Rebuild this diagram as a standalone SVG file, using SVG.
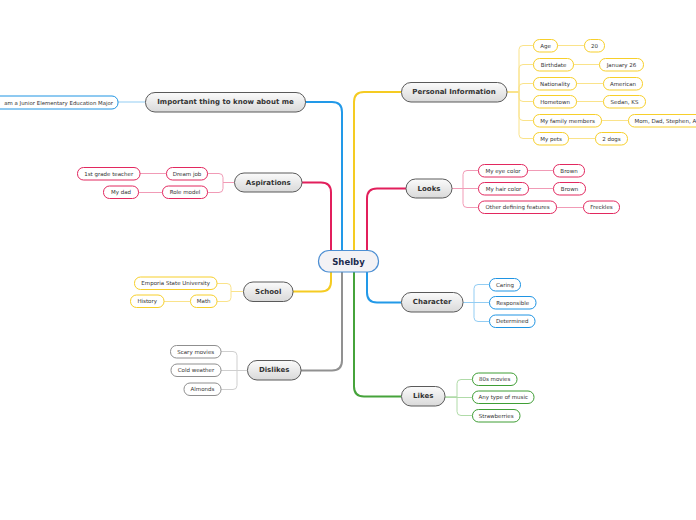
<svg xmlns="http://www.w3.org/2000/svg" width="696" height="520" viewBox="0 0 696 520">
<defs>
<linearGradient id="mg" x1="0" y1="0" x2="0" y2="1">
<stop offset="0" stop-color="#fbfbfb"/>
<stop offset="1" stop-color="#d9d9d9"/>
</linearGradient>
</defs>
<style>
text{font-family:"DejaVu Sans",Verdana,sans-serif;fill:#333;text-anchor:middle;dominant-baseline:central}
.main rect{fill:url(#mg);stroke:#5a5a5a;stroke-width:1}
.main text{font-size:7px;font-weight:bold}
.sub rect{fill:#fff;stroke-width:1}
.sub text{font-size:5.5px}
.y rect{stroke:#f7cf2a}
.p rect{stroke:#e2285f}
.b rect{stroke:#1f94e3}
.g rect{stroke:#3f9e35}
.k rect{stroke:#8f8f8f}
#connectors path{fill:none}
.ty{stroke:#f5cb22;stroke-width:2}
.tp{stroke:#e21f5c;stroke-width:2}
.tb{stroke:#2299e8;stroke-width:2}
.tg{stroke:#46a33b;stroke-width:2}
.tk{stroke:#919191;stroke-width:2}
.ly{stroke:#fae38a;stroke-width:1}
.lp{stroke:#f19bb6;stroke-width:1}
.lb{stroke:#93cdf3;stroke-width:1}
.lg{stroke:#b0dba8;stroke-width:1}
.lk{stroke:#cfcfcf;stroke-width:1}
</style>
<g id="connectors">
<path class="tb" d="M342 250 V112 Q342 102 332 102 H305"/>
<path class="ty" d="M354 250 V102 Q354 92 364 92 H401"/>
<path class="tp" d="M331 250 V192.5 Q331 182.5 321 182.5 H302"/>
<path class="tp" d="M367 250 V198.5 Q367 188.5 377 188.5 H406"/>
<path class="ty" d="M331 272 V281.5 Q331 291.5 321 291.5 H293"/>
<path class="tk" d="M342 272 V360.5 Q342 370.5 332 370.5 H301"/>
<path class="tg" d="M354 272 V386.5 Q354 396.5 364 396.5 H401"/>
<path class="tb" d="M367 272 V292.5 Q367 302.5 377 302.5 H401"/>
<path class="lb" d="M145 102 H118"/>
<path class="ly" d="M507 92 H519 V49.5 Q519 45.5 523 45.5 H533"/>
<path class="ly" d="M507 92 H519 V68.5 Q519 64.5 523 64.5 H533"/>
<path class="ly" d="M507 92 H519 V87.5 Q519 83.5 523 83.5 H533"/>
<path class="ly" d="M507 92 H519 V97.5 Q519 101.5 523 101.5 H533"/>
<path class="ly" d="M507 92 H519 V116.5 Q519 120.5 523 120.5 H533"/>
<path class="ly" d="M507 92 H519 V134.5 Q519 138.5 523 138.5 H533"/>
<path class="ly" d="M557 45.5 H584 M573 64.5 H599 M576 83.5 H603 M576 101.5 H603 M601 120.5 H628 M568 138.5 H595"/>
<path class="lp" d="M452 188.5 H463 V174.5 Q463 170.5 467 170.5 H478"/>
<path class="lp" d="M452 188.5 H478"/>
<path class="lp" d="M452 188.5 H463 V203.5 Q463 207.5 467 207.5 H478"/>
<path class="lp" d="M527 170.5 H553 M528 188.5 H553 M556 207.5 H583"/>
<path class="lb" d="M463 302.5 H474 V288.5 Q474 284.5 478 284.5 H489"/>
<path class="lb" d="M463 302.5 H489"/>
<path class="lb" d="M463 302.5 H474 V317.5 Q474 321.5 478 321.5 H489"/>
<path class="lg" d="M445 397 H457 V383.5 Q457 379.5 461 379.5 H472"/>
<path class="lg" d="M445 397.5 H472"/>
<path class="lg" d="M445 397 H457 V411.5 Q457 415.5 461 415.5 H472"/>
<path class="lp" d="M234 182.5 H223 V177.5 Q223 173.5 219 173.5 H207"/>
<path class="lp" d="M234 182.5 H223 V188.5 Q223 192.5 219 192.5 H207"/>
<path class="lp" d="M140 173.5 H166 M138 192.5 H162"/>
<path class="ly" d="M243 291.5 H231 V287.5 Q231 283.5 227 283.5 H217"/>
<path class="ly" d="M243 291.5 H231 V297.5 Q231 301.5 227 301.5 H217"/>
<path class="ly" d="M164 301.5 H190"/>
<path class="lk" d="M247 370.5 H237 V355.5 Q237 351.5 233 351.5 H221"/>
<path class="lk" d="M247 370.5 H221"/>
<path class="lk" d="M247 370.5 H237 V385.5 Q237 389.5 233 389.5 H221"/>
</g>
<g id="shelby">
<rect x="318.5" y="250.5" width="60" height="21.5" rx="10.5" fill="#f3f2f5" stroke="#4d8fd3" stroke-width="1.2"/>
<text x="348.5" y="261.5" style="font-size:8.5px;font-weight:bold;fill:#1b2a4e">Shelby</text>
</g>
<g id="personal" class="main"><rect x="401.5" y="82.5" width="105.5" height="19.5" rx="9.5"/><text x="454" y="92.3">Personal Information</text></g>
<g id="important" class="main"><rect x="145.5" y="92.5" width="160" height="19.5" rx="9.5"/><text x="225.5" y="102.3">Important thing to know about me</text></g>
<g id="aspirations" class="main"><rect x="234.5" y="173" width="67.5" height="19" rx="9.5"/><text x="268.3" y="182.6">Aspirations</text></g>
<g id="looks" class="main"><rect x="406" y="179" width="46" height="19" rx="9.5"/><text x="429" y="188.6">Looks</text></g>
<g id="school" class="main"><rect x="243.5" y="282" width="49.5" height="19.5" rx="9.5"/><text x="268.2" y="291.8">School</text></g>
<g id="character" class="main"><rect x="401.5" y="292.5" width="61.5" height="19.5" rx="9.5"/><text x="432.2" y="302.3">Character</text></g>
<g id="dislikes" class="main"><rect x="247.5" y="360.5" width="53.5" height="19.5" rx="9.5"/><text x="274.2" y="370.3">Dislikes</text></g>
<g id="likes" class="main"><rect x="401.5" y="386.5" width="43.5" height="19.5" rx="9.5"/><text x="423.2" y="396.3">Likes</text></g>
<g id="major" class="sub b"><rect x="-20" y="96" width="138" height="13" rx="6"/><text x="113" y="102.5" style="text-anchor:end;font-size:5.4px">am a Junior Elementary Education Major</text></g>
<g id="age" class="sub y"><rect x="533.5" y="39.5" width="24" height="12.5" rx="6"/><text x="545.5" y="45.8">Age</text></g>
<g id="age-v" class="sub y"><rect x="584.5" y="39.5" width="20" height="12.5" rx="6"/><text x="594.5" y="45.8">20</text></g>
<g id="birthdate" class="sub y"><rect x="533.5" y="58.5" width="40" height="12.5" rx="6"/><text x="553.5" y="64.8">Birthdate</text></g>
<g id="birthdate-v" class="sub y"><rect x="599.5" y="58.5" width="44" height="12.5" rx="6"/><text x="621.5" y="64.8">January 26</text></g>
<g id="nationality" class="sub y"><rect x="533.5" y="77.5" width="43" height="12.5" rx="6"/><text x="555" y="83.8">Nationality</text></g>
<g id="nationality-v" class="sub y"><rect x="603.5" y="77.5" width="39" height="12.5" rx="6"/><text x="623" y="83.8">American</text></g>
<g id="hometown" class="sub y"><rect x="533.5" y="95.5" width="43" height="12.5" rx="6"/><text x="555" y="101.8">Hometown</text></g>
<g id="hometown-v" class="sub y"><rect x="603.5" y="95.5" width="42" height="12.5" rx="6"/><text x="624.5" y="101.8">Sedan, KS</text></g>
<g id="family" class="sub y"><rect x="533.5" y="114.5" width="68" height="12.5" rx="6"/><text x="567.5" y="120.8">My family members</text></g>
<g id="family-v" class="sub y"><rect x="628.5" y="114.5" width="80" height="12.5" rx="6"/><text x="634.5" y="120.8" style="text-anchor:start">Mom, Dad, Stephen, A</text></g>
<g id="pets" class="sub y"><rect x="533.5" y="132.5" width="35" height="12.5" rx="6"/><text x="551" y="138.8">My pets</text></g>
<g id="pets-v" class="sub y"><rect x="595.5" y="132.5" width="32" height="12.5" rx="6"/><text x="611.5" y="138.8">2 dogs</text></g>
<g id="eye" class="sub p"><rect x="478.5" y="164.5" width="49" height="12.5" rx="6"/><text x="503" y="170.8">My eye color</text></g>
<g id="eye-v" class="sub p"><rect x="553.5" y="164.5" width="31" height="12.5" rx="6"/><text x="569" y="170.8">Brown</text></g>
<g id="hair" class="sub p"><rect x="478.5" y="182.5" width="50" height="12.5" rx="6"/><text x="503.5" y="188.8">My hair color</text></g>
<g id="hair-v" class="sub p"><rect x="553.5" y="182.5" width="32" height="12.5" rx="6"/><text x="569.5" y="188.8">Brown</text></g>
<g id="other" class="sub p"><rect x="478.5" y="201" width="78" height="12.5" rx="6"/><text x="517.5" y="207.3">Other defining features</text></g>
<g id="other-v" class="sub p"><rect x="583.5" y="201" width="36" height="12.5" rx="6"/><text x="601.5" y="207.3">Freckles</text></g>
<g id="caring" class="sub b"><rect x="489.5" y="278.5" width="31" height="12.5" rx="6"/><text x="505" y="284.8">Caring</text></g>
<g id="responsible" class="sub b"><rect x="489.5" y="296.5" width="46.5" height="12.5" rx="6"/><text x="512.7" y="302.8">Responsible</text></g>
<g id="determined" class="sub b"><rect x="489.5" y="315" width="45.5" height="12.5" rx="6"/><text x="512.2" y="321.3">Determined</text></g>
<g id="movies80" class="sub g"><rect x="472.5" y="373" width="44.5" height="12.5" rx="6"/><text x="494.7" y="379.3">80s movies</text></g>
<g id="music" class="sub g"><rect x="472.5" y="391" width="61.5" height="12.5" rx="6"/><text x="503.2" y="397.3">Any type of music</text></g>
<g id="strawberries" class="sub g"><rect x="472.5" y="409.5" width="47.5" height="12.5" rx="6"/><text x="496.2" y="415.8">Strawberries</text></g>
<g id="dreamjob" class="sub p"><rect x="166.5" y="167.5" width="41" height="12.5" rx="6"/><text x="187" y="173.8">Dream job</text></g>
<g id="dreamjob-v" class="sub p"><rect x="77.5" y="167.5" width="62.5" height="12.5" rx="6"/><text x="108.7" y="173.8">1st grade teacher</text></g>
<g id="rolemodel" class="sub p"><rect x="162.5" y="186" width="45" height="12.5" rx="6"/><text x="185" y="192.3">Role model</text></g>
<g id="rolemodel-v" class="sub p"><rect x="103.5" y="186" width="35" height="12.5" rx="6"/><text x="121" y="192.3">My dad</text></g>
<g id="emporia" class="sub y"><rect x="134.5" y="277" width="82.5" height="12.5" rx="6"/><text x="175.7" y="283.3">Emporia State University</text></g>
<g id="math" class="sub y"><rect x="190.5" y="295" width="26.5" height="12.5" rx="6"/><text x="203.7" y="301.3">Math</text></g>
<g id="history" class="sub y"><rect x="130.5" y="295" width="33.5" height="12.5" rx="6"/><text x="147.2" y="301.3">History</text></g>
<g id="scary" class="sub k"><rect x="170.5" y="345.5" width="50.5" height="12.5" rx="6"/><text x="195.7" y="351.8">Scary movies</text></g>
<g id="cold" class="sub k"><rect x="171" y="364" width="50" height="12.5" rx="6"/><text x="196" y="370.3">Cold weather</text></g>
<g id="almonds" class="sub k"><rect x="184" y="383" width="37" height="12.5" rx="6"/><text x="202.5" y="389.3">Almonds</text></g>
</svg>
